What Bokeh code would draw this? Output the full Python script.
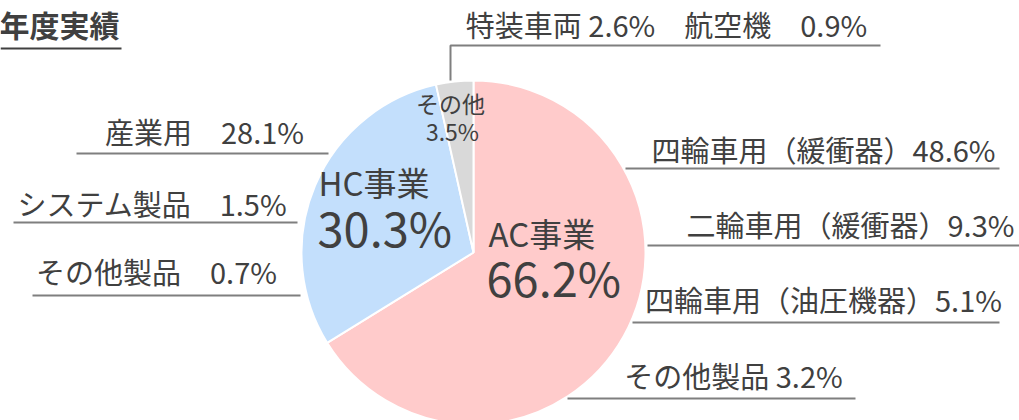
from bokeh.plotting import figure
from bokeh.models import Range1d, ColumnDataSource
from bokeh.core.properties import value
from bokeh.embed import file_html
from bokeh.resources import INLINE
import math

W, H = 1019, 420
FONT = "Noto Sans CJK JP"
TXT = "#404040"
LINE = "#7F7F7F"

# ---------------- data ----------------
title = "年度実績"
segments = ["AC事業", "HC事業", "その他"]
shares = [66.2, 30.3, 3.5]
seg_colors = ["#FFCBCB", "#C3DFFC", "#D9D9D9"]

ac_items = ["四輪車用（緩衝器）", "二輪車用（緩衝器）", "四輪車用（油圧機器）", "その他製品"]
ac_values = [48.6, 9.3, 5.1, 3.2]
hc_items = ["産業用", "システム製品", "その他製品"]
hc_values = [28.1, 1.5, 0.7]
other_items = ["特装車両", "航空機"]
other_values = [2.6, 0.9]

# ---------------- layout (pixels, y from top) ----------------
cx, cy, R = 473, 252, 172
def Y(py):
    return H - py

p = figure(width=W, height=H, x_range=Range1d(0, W), y_range=Range1d(0, H),
           output_backend="svg", toolbar_location=None, min_border=0,
           x_axis_type=None, y_axis_type=None)
p.grid.visible = False
p.outline_line_color = None
p.background_fill_color = "white"
p.border_fill_color = "white"

# pie: starts at 12 o'clock, clockwise
total = sum(shares)
starts, ends = [], []
cum = 0.0
for s in shares:
    starts.append(math.pi / 2 - 2 * math.pi * cum / total)
    cum += s
    ends.append(math.pi / 2 - 2 * math.pi * cum / total)
src = ColumnDataSource(dict(start=starts, end=ends, color=seg_colors, name=segments))
p.wedge(x=cx, y=Y(cy), radius=R, start_angle="start", end_angle="end",
        direction="clock", fill_color="color", line_color="white", line_width=2,
        source=src)

def txt(x, y, s, size, align="center", bold=False):
    # y = desired bottom of glyphs; compensate renderer baseline offset
    yy = y - 0.45 * size
    p.text(x=[x], y=[Y(yy)], text=[s], text_font=value(FONT), text_font_size=f"{size}px",
           text_color=TXT, text_align=align, text_baseline="alphabetic",
           text_font_style="bold" if bold else "normal")

def line(xs, ys, color=LINE, width=2):
    p.line(x=xs, y=[Y(v) for v in ys], line_color=color, line_width=width)

# title
txt(119, 37, title, 30, align="right", bold=True)
line([0, 121], [48, 48], color=TXT, width=2)

# center labels
txt(488, 247, segments[0], 33, align="left")
txt(486, 297, f"{shares[0]}%", 47, align="left")
txt(318, 196, segments[1], 33, align="left")
txt(317, 247, f"{shares[1]}%", 47, align="left")
txt(450, 113, segments[2], 23)
txt(452, 141, f"{shares[2]}%", 23)

# AC breakdown (right side)
ac_pos = [(823, 162), (850, 237), (823, 312), (733, 388)]
ac_lines = [(625, 999, 168), (647, 1019, 245), (632, 999, 322), (567, 855, 398)]
ac_sep = ["", "", "", " "]
for name, v, (x, y), (x0, x1, ly), sep in zip(ac_items, ac_values, ac_pos, ac_lines, ac_sep):
    txt(x, y, f"{name}{sep}{v}%", 29)
    line([x0, x1], [ly, ly])

# HC breakdown (left side)
hc_pos = [(204, 144), (152, 216), (156, 284)]
hc_lines = [(76, 328, 153), (13, 297, 222), (32, 300, 295)]
for name, v, (x, y), (x0, x1, ly) in zip(hc_items, hc_values, hc_pos, hc_lines):
    txt(x, y, f"{name}\u3000{v}%", 29)
    line([x0, x1], [ly, ly])

# other breakdown (top)
top_label = f"{other_items[0]} {other_values[0]}%\u3000{other_items[1]}\u3000{other_values[1]}%"
txt(666, 37, top_label, 29)
line([450, 450, 880], [80, 45, 45])

open("out.html", "w").write(file_html(p, INLINE))
